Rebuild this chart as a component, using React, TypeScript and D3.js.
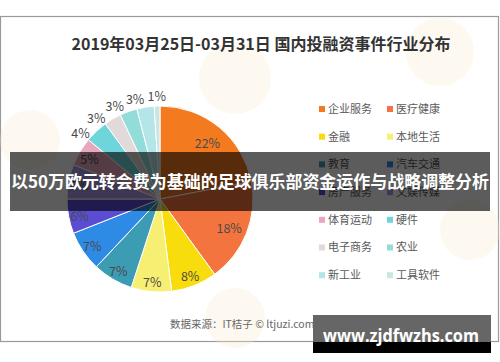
import React, { useRef, useEffect } from "react";
import * as d3 from "d3";

const title = "2019年03月25日-03月31日 国内投融资事件行业分布";
const categories = [
  "企业服务", "医疗健康", "金融", "本地生活", "教育", "汽车交通", "房产服务",
  "文娱传媒", "体育运动", "硬件", "电子商务", "农业", "新工业", "工具软件",
];
const shares = [22, 18, 8, 7, 7, 7, 6, 6, 5, 4, 3, 3, 3, 1];
const colors = [
  "#F47A20", "#F4743F", "#F8DC0B", "#F7EF72", "#3C9CB3", "#2D8BE5", "#5A4DD3",
  "#A99AE6", "#E8A6BF", "#6ED6DA", "#E2DADA", "#92DDDA", "#B4E5E8", "#CBE6E0",
];
const source = "数据来源：IT桔子 © ltjuzi.com";
const banner = "以50万欧元转会费为基础的足球俱乐部资金运作与战略调整分析";
const watermark = "www.zjdfwzhs.com";

const FONT = "'Noto Sans CJK SC', 'Noto Sans', sans-serif";

const App = () => {
  const wrapper = useRef<SVGSVGElement>(null);
  const width = 500;
  const height = 362;

  useEffect(() => {
    const svg = d3.select(wrapper.current);
    svg.selectAll("*").remove();

    // chart frame
    svg.append("rect").attr("x", 0).attr("y", 0).attr("width", width).attr("height", height).attr("fill", "#fff");
    svg.append("rect")
      .attr("x", 0.5).attr("y", 16.5).attr("width", 498).attr("height", 325)
      .attr("fill", "#fff").attr("stroke", "#9a9a9a").attr("stroke-width", 1.2);

    // faint logo watermarks
    const marks = [[235, 78, 36], [440, 52, 34], [30, 140, 30], [235, 318, 30], [470, 230, 30]];
    svg.selectAll("circle.mark").data(marks).enter().append("circle")
      .attr("class", "mark")
      .attr("cx", (d) => d[0]).attr("cy", (d) => d[1]).attr("r", (d) => d[2])
      .attr("fill", "#fbeccd").attr("opacity", 0.3);

    svg.append("text")
      .attr("x", 261).attr("y", 50)
      .attr("text-anchor", "middle")
      .attr("font-family", FONT).attr("font-weight", "bold").attr("font-size", 16)
      .attr("fill", "#333")
      .text(title);

    const cx = 160, cy = 199, radius = 93;
    const g = svg.append("g").attr("transform", `translate(${cx},${cy})`);
    const data = categories.map((name, i) => ({ name, value: shares[i], color: colors[i] }));
    const pie = d3.pie<any>().sort(null).value((d) => d.value);
    const arcs = pie(data);
    const arc = d3.arc<any>().innerRadius(0).outerRadius(radius);

    g.selectAll("path").data(arcs).enter().append("path")
      .attr("d", arc)
      .attr("fill", (d) => d.data.color)
      .attr("stroke", "#fff").attr("stroke-width", 1);

    // label angles: small slices go outside, pushed apart counter-clockwise
    const minGap = (12 * Math.PI) / 180;
    const angles = arcs.map((d) => (d.startAngle + d.endAngle) / 2);
    for (let i = arcs.length - 2; i >= 0; i--) {
      if (arcs[i].data.value < 5 && arcs[i + 1].data.value < 5) {
        angles[i] = Math.min(angles[i], angles[i + 1] - minGap);
      }
    }
    const labelPos = (d: any, i: number) => {
      const r = d.data.value >= 10 ? radius * 0.8 : d.data.value >= 5 ? radius * 0.88 : radius * 1.12;
      return [Math.sin(angles[i]) * r, -Math.cos(angles[i]) * r];
    };
    g.selectAll("text").data(arcs).enter().append("text")
      .attr("transform", (d, i) => `translate(${labelPos(d, i)})`)
      .attr("dy", "0.5em")
      .attr("text-anchor", "middle")
      .attr("font-family", FONT).attr("font-size", 12.5)
      .attr("fill", "#4a4a4a")
      .text((d) => `${d.data.value}%`);

    // legend
    const legend = svg.append("g");
    const items = legend.selectAll("g").data(data).enter().append("g")
      .attr("transform", (d, i) => `translate(${i % 2 === 0 ? 319 : 387},${109 + Math.floor(i / 2) * 27.7})`);
    items.append("rect").attr("x", 0).attr("y", -3).attr("width", 6).attr("height", 6).attr("fill", (d) => d.color);
    items.append("text")
      .attr("x", 9).attr("dy", "0.35em")
      .attr("font-family", FONT).attr("font-size", 11)
      .attr("fill", "#595959")
      .text((d) => d.name);

    svg.append("text")
      .attr("x", 170).attr("y", 328)
      .attr("font-family", FONT).attr("font-size", 10.5)
      .attr("fill", "#666")
      .text(source);

    // overlay banner
    svg.append("rect")
      .attr("x", 10).attr("y", 152).attr("width", 480).attr("height", 59)
      .attr("fill", "#000").attr("opacity", 0.64);
    svg.append("text")
      .attr("x", 250).attr("y", 182)
      .attr("dy", "0.35em")
      .attr("text-anchor", "middle")
      .attr("font-family", FONT).attr("font-weight", "bold").attr("font-size", 17)
      .attr("fill", "#fff")
      .attr("textLength", 478).attr("lengthAdjust", "spacingAndGlyphs")
      .text(banner);

    // site watermark
    svg.append("rect").attr("x", 313).attr("y", 315).attr("width", 178).attr("height", 27).attr("fill", "#666");
    svg.append("rect").attr("x", 313).attr("y", 342).attr("width", 178).attr("height", 11).attr("fill", "#000");
    svg.append("text")
      .attr("x", 323).attr("y", 342)
      .attr("font-family", "'Open Sans', 'DejaVu Sans', sans-serif").attr("font-weight", "bold").attr("font-size", 17)
      .attr("fill", "#fff")
      .attr("textLength", 156).attr("lengthAdjust", "spacingAndGlyphs")
      .text(watermark);
  }, []);

  return (
    <svg
      ref={wrapper}
      width={width}
      height={height}
      style={{ position: "absolute", left: 0, top: 0, display: "block" }}
    />
  );
};

export default App;
